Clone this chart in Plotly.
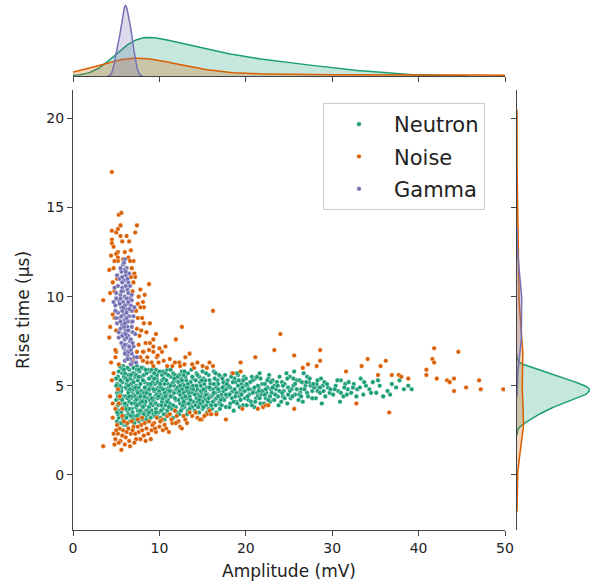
import numpy as np
import plotly.graph_objects as go

# ---------------- data (amplitude mV, rise time us) ----------------
neutron_pts = [
 (5.1,3.0),(5.3,3.6),(5.0,4.2),(5.6,4.9),(5.2,5.5),(5.8,6.1),(5.4,2.9),(5.9,3.3),(5.5,4.0),(5.1,4.6),
 (5.7,5.2),(5.3,5.8),(5.9,2.8),(5.6,3.5),(5.2,3.9),(5.8,4.4),(5.4,5.0),(5.0,5.4),(5.6,6.0),(5.3,3.2),
 (5.9,3.8),(5.5,4.5),(5.1,5.1),(5.7,5.7),(5.4,4.3),(5.8,2.9),(5.2,3.4),(5.6,4.7),(5.0,3.7),(5.9,5.5),
 (6.1,2.9),(6.4,3.4),(6.2,3.9),(6.7,4.3),(6.3,4.8),(6.9,5.3),(6.5,5.9),(7.2,3.1),(7.5,3.6),(7.1,4.1),
 (7.7,4.6),(7.3,5.0),(7.9,5.5),(7.4,6.1),(6.0,3.3),(6.6,3.0),(6.8,3.7),(7.0,4.5),(7.6,4.9),(7.8,3.2),
 (6.2,5.1),(6.4,5.6),(6.7,6.2),(7.1,5.7),(7.5,5.3),(7.8,4.2),(6.1,4.4),(6.3,3.6),(6.9,3.5),(7.3,3.8),
 (7.6,3.4),(7.9,3.9),(6.5,4.1),(6.8,4.7),(7.2,4.4),(7.7,5.8),(6.0,5.7),(6.6,5.4),(7.0,6.0),(7.4,4.7),
 (6.2,2.8),(6.9,4.9),(7.5,4.3),(7.8,5.1),(6.4,4.6),(6.7,5.1),(7.2,5.5),(7.6,3.0),(6.3,6.0),(7.0,3.3),
 (7.4,5.9),(6.1,4.9),(6.8,4.0),(7.3,4.2),(7.9,4.7),
 (8.1,3.1),(8.4,3.6),(8.2,4.2),(8.7,4.7),(8.3,5.2),(8.9,5.8),(8.5,3.3),(9.2,3.9),(9.5,4.4),(9.1,4.9),
 (9.7,5.4),(9.3,6.0),(9.9,3.5),(9.4,4.1),(8.0,4.5),(8.6,5.0),(8.8,3.8),(9.0,3.2),(9.6,3.7),(9.8,4.6),
 (8.2,5.6),(8.4,4.8),(8.7,3.4),(9.1,5.5),(9.5,5.1),(9.8,5.8),(8.1,6.0),(8.6,4.3),(8.9,4.5),(9.3,4.3),
 (9.6,4.0),(9.9,4.9),(8.3,3.9),(8.8,5.4),(9.2,5.2),(9.7,3.3),(8.0,3.5),(8.5,5.7),(9.0,4.0),(9.4,4.7),
 (9.8,5.2),(8.2,4.6),(8.7,5.9),(9.1,3.6),(9.6,4.8),(8.4,4.1),(8.9,4.9),(9.3,3.4),(9.7,5.6),(8.6,3.0),
 (10.1,3.2),(10.4,3.7),(10.2,4.3),(10.7,4.8),(10.3,5.3),(10.9,5.9),(11.2,3.4),(11.5,3.9),(11.1,4.5),(11.7,5.0),
 (11.3,5.5),(11.9,4.2),(10.5,4.0),(10.8,4.5),(11.0,5.1),(11.6,5.7),(11.8,3.6),(10.6,3.1),(10.0,4.7),(10.3,5.6),
 (11.4,4.7),(11.9,5.3),(10.9,3.6),(11.2,4.0),(10.6,5.1),(11.5,4.4),(10.2,4.9),(10.8,4.2),(11.7,4.6),(11.0,3.3),
 (10.4,5.8),(11.3,5.9),(10.7,3.9),(11.8,5.6),(10.1,4.5),(11.4,3.7),(10.5,4.4),(11.1,4.9),(11.6,3.2),(10.9,4.7),
 (10.3,4.1),(11.9,4.8),
 (12.1,3.5),(12.4,4.0),(12.2,4.6),(12.7,5.1),(12.3,5.6),(12.9,3.8),(13.2,4.3),(13.5,4.8),(13.1,5.3),(13.7,5.9),
 (13.3,3.6),(13.9,4.1),(12.5,4.4),(12.8,4.9),(13.0,5.5),(13.6,3.9),(13.8,4.6),(12.6,5.8),(12.0,4.8),(12.3,3.4),
 (13.4,5.0),(13.9,5.4),(12.9,4.2),(13.2,3.4),(12.6,3.7),(13.5,4.4),(12.2,5.2),(12.8,5.6),(13.7,4.9),(13.0,4.0),
 (12.4,4.5),(13.3,5.7),(12.7,4.3),(13.8,3.8),(12.1,4.9),(13.4,4.6),(12.5,5.4),(13.1,4.7),(13.6,5.2),(12.9,5.0),
 (14.1,3.6),(14.4,4.1),(14.2,4.7),(14.7,5.2),(14.3,5.7),(14.9,3.9),(15.2,4.4),(15.5,4.9),(15.1,5.4),(15.7,3.7),
 (15.3,4.2),(15.9,4.8),(14.5,4.5),(14.8,5.0),(15.0,5.8),(15.6,4.5),(15.8,5.3),(14.6,3.5),(14.0,5.0),(14.3,4.3),
 (15.4,3.9),(15.9,4.0),(14.9,4.6),(15.2,5.1),(14.6,5.5),(15.5,3.5),(14.2,3.9),(14.8,4.3),(15.7,5.6),(15.0,4.1),
 (14.4,4.8),(15.3,4.7),(14.7,4.0),(15.8,4.4),
 (16.1,3.7),(16.4,4.2),(16.2,4.8),(16.7,5.3),(16.3,5.8),(16.9,4.0),(17.2,4.5),(17.5,5.0),(17.1,5.5),(17.7,3.8),
 (17.3,4.3),(17.9,4.9),(16.5,4.6),(16.8,5.1),(17.0,4.1),(17.6,5.6),(17.8,4.4),(16.6,3.5),(16.0,4.4),(16.4,5.4),
 (17.4,4.7),(17.9,5.3),(16.9,4.7),(17.2,3.9),(16.6,4.9),(17.5,4.2),(16.2,4.1),(17.7,4.8),
 (18.1,3.8),(18.4,4.3),(18.2,4.9),(18.7,5.4),(18.3,4.6),(18.9,4.1),(19.2,4.6),(19.5,5.1),(19.1,5.6),(19.7,3.9),
 (19.3,4.4),(19.9,5.0),(18.5,4.7),(18.8,5.2),(19.0,4.0),(19.6,4.6),(19.8,5.5),(18.6,3.6),(18.0,5.0),(18.4,5.7),
 (19.4,4.8),(19.9,4.3),(18.9,4.6),(19.2,5.3),
 (20.1,3.9),(20.4,4.5),(20.2,5.0),(20.7,5.5),(20.3,4.2),(20.9,4.7),(21.2,4.3),(21.5,4.9),(21.1,5.4),(21.7,4.0),
 (21.3,4.6),(21.9,5.1),(20.5,4.8),(20.8,5.3),(21.0,3.8),(21.6,5.7),(21.8,4.5),(20.6,4.1),(20.0,5.4),(21.4,4.4),
 (22.1,4.0),(22.4,4.6),(22.2,5.1),(22.7,5.6),(22.3,4.3),(22.9,4.8),(23.2,4.2),(23.5,4.8),(23.1,5.3),(23.7,4.4),
 (23.3,5.0),(23.9,5.5),(22.5,4.9),(22.8,4.1),(23.0,4.6),(23.6,5.2),(23.8,3.9),(22.6,5.4),
 (24.1,4.1),(24.4,4.7),(24.2,5.2),(24.7,5.7),(24.3,4.4),(24.9,4.9),(25.2,4.3),(25.5,5.0),(25.1,5.5),(25.7,4.5),
 (25.3,4.8),(25.9,5.3),(24.5,5.1),(24.8,4.0),(25.6,5.8),
 (26.1,4.2),(26.4,4.8),(26.2,5.3),(26.7,5.7),(26.3,4.6),(26.9,5.0),(27.2,4.4),(27.5,5.0),(27.1,5.5),(27.7,4.7),
 (27.3,5.2),(27.9,4.9),(26.6,4.1),
 (28.1,4.3),(28.4,4.9),(28.2,5.1),(28.7,5.4),(28.3,4.7),(28.9,5.0),(29.2,4.4),(29.5,4.9),(29.1,5.2),(29.7,4.6),
 (28.6,4.9),(28.8,4.0),
 (30.1,4.5),(30.4,5.0),(30.7,4.7),(31.0,5.3),(31.3,4.4),(31.5,5.1),(31.8,4.8),(30.9,4.1),
 (32.2,4.6),(32.5,5.1),(32.9,4.8),(33.3,5.4),(33.6,4.5),(33.9,5.0),
 (34.3,4.8),(34.7,5.2),(35.1,4.6),(35.5,5.0),(35.9,4.4),
 (36.4,4.7),(36.9,5.1),(37.4,4.9),(37.8,5.3),
 (38.3,4.8),(38.8,5.0),(39.2,4.8),
 (5.2,4.4),(5.5,5.3),(5.8,3.1),(5.1,3.5),(5.4,6.1),(5.7,4.2),(5.3,4.7),(5.9,5.9),(5.6,2.9),(5.0,5.0),
 (6.2,3.2),(6.5,3.7),(6.8,4.4),(6.1,5.4),(6.4,5.0),(6.7,3.3),(6.0,4.0),(6.3,4.3),(6.9,5.7),(6.6,4.8),
 (7.1,2.9),(7.4,3.3),(7.7,4.0),(7.0,4.8),(7.3,5.6),(7.6,5.5),(7.9,6.0),(7.2,4.0),(7.5,4.6),(7.8,3.6),
 (8.3,4.4),(8.6,3.6),(8.9,4.2),(8.1,5.3),(8.4,5.9),(8.7,5.1),(8.0,4.1),(8.5,3.1),(8.8,4.8),(8.2,3.4),
 (9.2,4.2),(9.5,3.3),(9.8,4.3),(9.1,5.9),(9.4,5.4),(9.7,4.5),(9.0,5.1),(9.3,4.8),(9.6,5.9),(9.9,3.9),
 (10.2,3.6),(10.5,5.4),(10.8,3.4),(10.1,5.1),(10.4,4.3),(10.7,5.7),(11.0,4.2),(11.3,4.4),(11.6,5.2),(11.9,3.8),
 (12.2,4.2),(12.5,3.6),(12.8,4.6),(12.1,5.5),(12.4,5.0),(12.7,3.9),(13.0,4.4),(13.3,5.1),(12.6,4.8),(12.9,5.8),
 (13.5,3.7),(13.8,5.5),(13.2,4.9),(13.6,4.2),(13.9,4.8),(14.2,5.3),(14.5,3.8),(14.8,4.7),(14.1,4.5),(14.4,5.6),
 (14.7,4.4),(15.0,3.7),(15.3,5.3),(15.6,4.1),(15.9,5.1),(15.1,4.8),(15.4,5.7),(15.7,4.3),(16.0,3.9),(16.3,5.1),
 (16.6,4.3),(16.9,5.6),(16.2,4.5),(16.5,3.9),(16.8,4.8),(17.1,4.2),(17.4,5.2),(17.7,4.5),(17.0,3.7),(17.3,4.9),
 (6.3,5.3),(6.9,3.1),(7.6,5.9),(6.5,4.4),(7.2,4.9),(6.1,3.7),(7.8,4.4),(6.7,5.6),(7.4,3.9),(7.0,5.2),
 (8.3,4.9),(8.8,3.5),(9.4,5.7),(9.9,4.4),(8.5,4.6),(9.1,4.3),(9.6,3.5),(8.1,3.8),
 (10.2,3.9),(10.6,4.6),(11.0,5.6),(11.4,5.1),(11.8,4.3),(10.4,4.8),(10.8,5.3),(11.2,4.7),(11.6,3.9),(10.0,5.8),
 (10.5,3.4),(11.1,3.8),(11.7,5.4),(10.9,4.1),(11.3,5.0),(10.7,4.4),
 (12.3,4.7),(12.8,4.1),(13.4,4.0),(13.9,5.0),(12.6,5.3),
 (14.3,5.0),(14.9,5.3),(15.4,4.5),(15.8,4.9),(14.6,4.2),(15.1,3.8),
 (16.3,4.6),(16.8,4.4),(17.3,5.4),(17.8,5.1),(16.5,5.7),
 (18.2,4.0),(18.5,5.2),(18.8,4.4),(19.1,5.0),(19.4,4.2),(19.7,5.3),(18.3,5.5),(18.7,4.8),(19.0,5.7),(19.3,3.8),
 (19.6,4.9),(19.9,4.7),(18.1,4.5),(18.6,4.1),(19.5,4.5),
 (20.2,4.4),(20.5,5.2),(20.8,4.6),(21.1,4.1),(21.4,5.0),(21.7,5.4),(20.3,4.8),(20.7,3.9),(21.0,4.9),(21.3,5.5),
 (21.6,4.3),(21.9,4.7),(20.1,5.1),(21.5,4.7),
 (22.2,4.5),(22.5,5.3),(22.8,4.4),(23.1,4.9),(23.4,4.5),(23.7,5.0),(22.3,4.8),(22.9,5.2),(23.3,4.2),(23.9,4.7),
 (22.6,4.2),
 (24.2,4.6),(24.5,4.3),(24.8,5.4),(25.1,4.7),(25.4,4.4),(25.7,5.1),(24.3,5.0),(24.9,4.5),(25.5,5.4),(25.9,4.8),
 (26.2,4.5),(26.5,5.2),(26.8,4.8),(27.1,4.6),(27.4,5.4),(27.7,4.3),(26.4,4.4),(27.0,5.2),(27.8,5.1),
 (28.3,5.3),(28.6,4.6),(29.0,4.7),(29.4,5.1),(29.8,4.8),
 (30.3,4.8),(30.6,5.3),(31.0,4.6),(31.4,4.9),(31.7,4.5),(31.9,5.2),
 (32.4,4.9),(32.8,4.4),(33.2,4.9),(33.7,5.2),
 (34.5,4.6),(35.3,5.3),
 (36.7,4.5),
]

noise_pts = [
 (4.5,17.0),(5.3,14.6),(5.6,14.7),(7.4,14.0),(4.5,13.7),(5.0,13.6),(5.2,13.8),(4.5,13.2),(4.5,13.0),(5.7,13.1),
 (6.5,13.1),(5.2,12.5),(5.0,12.4),(5.2,12.2),(6.0,12.5),(6.4,12.2),(5.8,12.1),(5.2,12.0),(4.2,11.5),(4.7,11.6),
 (6.8,11.6),(7.1,11.3),(7.2,11.1),(6.7,11.1),(8.8,10.7),(7.8,10.4),(3.5,9.8),(8.1,9.7),(8.2,9.4),(7.8,9.4),
 (7.5,8.8),(8.0,8.8),(8.2,8.5),(4.2,7.7),(4.3,8.3),(9.3,7.6),(8.4,7.4),(8.2,6.9),(9.3,6.9),(8.6,6.6),
 (9.7,6.6),(5.0,6.9),(4.9,6.6),(7.4,6.9),(7.2,6.6),(4.9,7.0),(5.3,6.2),(7.8,6.6),(8.1,6.4),(8.6,6.3),
 (9.1,6.3),(9.3,6.1),(8.9,7.4),(9.3,7.2),(8.1,6.9),(9.8,6.7),(10.3,6.9),(10.0,7.1),(7.6,10.0),(7.3,9.2),
 (4.8,10.3),(4.6,9.0),(7.0,12.0),(6.9,10.3),(7.4,8.2),(7.7,7.8),(5.0,8.1),(7.2,13.6),(4.7,12.8),(6.2,13.4),
 (13.0,6.6),(10.9,6.1),(11.5,6.1),(12.3,6.3),(12.4,6.1),(14.4,6.3),(15.0,6.1),(15.5,6.0),(12.6,8.3),(16.2,9.2),
 (5.2,4.8),(5.4,4.4),(5.3,4.0),(5.7,3.7),(5.7,3.3),(4.3,4.4),(4.6,4.0),(4.9,3.7),(4.5,5.3),(4.7,5.7),(4.6,3.2),
 (3.5,1.6),(5.6,1.4),(4.9,2.0),(5.2,2.3),(5.5,1.9),(5.8,2.5),(6.1,2.1),(6.4,2.6),(6.0,1.7),(6.7,2.3),
 (7.0,2.7),(7.3,2.0),(5.4,2.6),(6.3,2.9),(7.6,2.4),(7.9,2.8),(8.2,2.2),(8.5,2.6),(8.8,3.0),(9.1,2.5),
 (9.4,2.9),(9.7,3.2),(10.0,2.7),(10.3,3.1),(10.6,2.8),(10.9,3.3),(8.0,3.2),(7.1,1.8),(6.6,1.6),(5.1,2.8),
 (4.8,1.7),(9.0,2.0),(8.4,1.9),(7.5,3.1),(9.6,2.4),(11.2,3.4),(11.5,2.9),(12.2,3.0),(12.4,2.7),(12.6,2.6),
 (13.0,3.1),(13.5,3.5),(14.4,3.2),(14.9,3.1),(15.5,3.4),(11.8,3.6),(10.4,2.5),(6.8,3.0),(5.9,3.0),(7.8,2.0),
 (24.0,7.9),(23.3,7.0),(25.6,6.7),(28.6,7.0),(28.6,6.4),(21.1,6.6),(19.4,6.3),(16.2,6.1),(18.5,5.7),(19.4,5.8),
 (26.6,6.0),(27.2,6.2),(28.2,6.1),(31.6,5.8),(33.4,6.1),(34.1,6.5),(35.6,6.1),(36.2,6.4),(35.3,5.6),(36.9,5.6),
 (37.7,5.6),(38.0,5.5),(38.8,5.4),(41.8,7.1),(41.6,6.5),(41.8,6.3),(40.9,5.9),(40.9,5.6),(42.1,5.4),(44.6,6.9),
 (43.3,5.3),(43.6,5.2),(44.1,5.4),(44.1,4.7),(45.5,4.9),(47.0,5.3),(47.2,4.8),(49.8,4.8),(36.6,3.5),(32.8,4.0),
 (25.6,3.7),(21.4,3.7),(22.0,3.8),(22.3,3.9),(22.6,3.9),(19.6,3.7),(17.7,3.1),(16.6,3.4),(16.0,3.4),(15.2,3.3),
 (14.7,3.1),
 (5.0,2.5),(5.3,1.8),(5.7,2.2),(6.2,2.4),(6.5,1.9),(6.9,2.5),(7.2,2.3),(7.5,2.7),(8.0,2.5),(8.3,2.9),
 (8.7,2.3),(9.2,2.8),(9.5,2.6),(10.1,3.0),(4.7,2.3),
 (5.1,11.0),(4.8,12.0),(6.6,12.0),(7.0,10.8),(7.5,9.6),(4.6,10.8),(7.9,8.1),(8.5,8.0),(8.8,7.0),(5.5,13.4),
 (11.2,6.5),(13.8,6.2),(9.9,6.3),(6.9,6.4),(7.6,7.3),
 (10.8,2.6),(11.4,3.1),(11.9,2.9),(12.8,3.3),(13.2,2.9),(13.8,3.3),(14.2,3.5),(15.8,3.6),(11.1,2.4),(12.0,3.3),
 (10.5,6.4),(11.8,6.3),(12.9,6.2),(14.0,6.0),(15.8,6.3),(13.5,6.8),(10.7,7.2),(11.9,7.6),
 (4.4,12.3),(5.5,14.0),(6.7,12.6),(4.3,10.2),(8.3,10.1),(8.9,8.5),(4.4,6.3),(9.6,7.9),(4.8,8.8),
]

gamma_pts = [
 (6.0,12.1),(5.8,11.8),(6.2,11.6),(5.6,11.4),(6.1,11.2),(5.4,11.0),(5.9,10.9),(6.4,10.8),(5.2,10.6),(5.7,10.5),
 (6.3,10.4),(5.0,10.2),(5.5,10.1),(6.0,10.0),(6.6,9.9),(5.3,9.8),(5.8,9.7),(6.3,9.6),(4.9,9.5),(5.6,9.4),
 (6.1,9.3),(6.8,9.2),(5.2,9.1),(5.9,9.0),(6.5,8.9),(5.4,8.8),(6.0,8.7),(6.7,8.6),(5.1,8.5),(5.7,8.4),
 (6.3,8.3),(5.5,8.2),(6.1,8.1),(6.9,8.0),(5.8,7.9),(6.4,7.8),(5.3,7.7),(6.0,7.6),(6.6,7.5),(5.6,7.4),
 (6.2,7.3),(7.0,7.2),(5.9,7.1),(6.5,7.0),(6.1,6.9),(6.8,6.8),(6.3,6.7),(7.1,6.6),(6.6,6.5),(6.0,6.4),
 (6.9,6.3),(5.7,10.8),(6.4,10.2),(5.4,9.6),(6.2,9.9),(5.0,9.9),(6.7,9.5),(5.6,8.9),(6.3,8.6),(5.9,8.3),
 (5.3,8.0),(6.7,7.6),(5.8,7.2),(6.4,6.9),(7.3,6.3),(5.5,11.6),(6.0,11.5),(5.7,9.2),(6.2,8.8),(6.0,6.8),
 (4.7,9.7),(4.8,10.5),(5.0,8.8),(6.8,9.8),(7.0,8.9),(6.9,7.4),(7.2,7.9),(6.6,10.6),(6.5,11.3),(7.4,6.6),
 (5.1,11.2),(6.8,8.3),(4.9,9.2),(7.1,9.4),(6.7,7.0),
 (5.9,11.9),(6.1,11.4),(5.7,11.1),(6.3,11.0),(5.8,10.3),(6.1,10.6),(5.5,9.9),(6.0,9.5),(6.5,9.3),(5.8,9.4),
 (6.2,9.1),(5.5,8.6),(6.0,8.5),(6.4,8.1),(5.7,7.8),(6.2,7.7),(6.5,7.2),(6.0,7.3),(6.3,6.5),(6.7,6.2),
 (6.9,8.6),(6.8,10.1),(5.6,10.3),(6.4,9.7),(6.1,7.9),
]

class_names = ["Neutron", "Noise", "Gamma"]
class_pts = [neutron_pts, noise_pts, gamma_pts]
line_colors = ["#1b9e77", "#d95f02", "#7570b3"]
fill_colors = ["rgba(27,158,119,0.25)", "rgba(217,95,2,0.25)", "rgba(117,112,179,0.25)"]
x_ticks = [0, 10, 20, 30, 40, 50]
y_ticks = [0, 5, 10, 15, 20]
x_range = [0, 50]
y_range = [-3.1, 21.6]


def kde(vals, weight, cut=3, gridsize=200):
    v = np.asarray(vals, float)
    bw = v.std(ddof=1) * len(v) ** (-0.2)
    grid = np.linspace(v.min() - cut * bw, v.max() + cut * bw, gridsize)
    dens = np.exp(-0.5 * ((grid[:, None] - v[None, :]) / bw) ** 2).sum(1)
    dens /= len(v) * bw * np.sqrt(2 * np.pi)
    return grid, dens * weight


total = sum(len(p) for p in class_pts)
fig = go.Figure()

for name, pts, col in zip(class_names, class_pts, line_colors):
    xs = [p[0] for p in pts]
    ys = [p[1] for p in pts]
    fig.add_trace(go.Scatter(x=xs, y=ys, mode="markers", name=name, legendgroup=name,
                             marker=dict(color=col, size=4.6, line=dict(width=0.4, color="white")),
                             xaxis="x", yaxis="y"))

top_max = 0
right_max = 0
kx_all, ky_all = [], []
for name, pts, col, fc in zip(class_names, class_pts, line_colors, fill_colors):
    w = len(pts) / total
    gx, dx = kde([p[0] for p in pts], w)
    gy, dy = kde([p[1] for p in pts], w)
    top_max = max(top_max, dx.max())
    right_max = max(right_max, dy.max())
    kx_all.append((gx, dx, col, fc))
    ky_all.append((gy, dy, col, fc))

for gx, dx, col, fc in kx_all:
    fig.add_trace(go.Scatter(x=gx, y=dx, mode="lines", fill="tozeroy", fillcolor=fc,
                             line=dict(color=col, width=1.5), showlegend=False,
                             hoverinfo="skip", xaxis="x2", yaxis="y2"))
for gy, dy, col, fc in ky_all:
    fig.add_trace(go.Scatter(x=dy, y=gy, mode="lines", fill="tozerox", fillcolor=fc,
                             line=dict(color=col, width=1.5), showlegend=False,
                             hoverinfo="skip", xaxis="x3", yaxis="y3"))

font_fam = "DejaVu Sans, sans-serif"
axis_col = "#444444"
main_x_dom = [73 / 602, 505 / 602]
main_y_dom = [1 - 530 / 586, 1 - 90 / 586]

fig.update_layout(
    width=602, height=586,
    margin=dict(l=0, r=0, t=0, b=0, autoexpand=False),
    paper_bgcolor="white", plot_bgcolor="white",
    font=dict(family=font_fam, color="#222222", size=14),
    showlegend=True,
    legend=dict(x=323 / 602, y=1 - 103 / 586, xanchor="left", yanchor="top",
                bgcolor="rgba(255,255,255,0.9)", bordercolor="#cccccc", borderwidth=1,
                font=dict(size=21, family=font_fam, color="#222222"),
                tracegroupgap=2, itemwidth=60),
    xaxis=dict(domain=main_x_dom, range=x_range, anchor="y", tickvals=x_ticks,
               showline=True, linecolor=axis_col, linewidth=1.2, ticks="outside",
               ticklen=5, tickwidth=1.2, tickcolor=axis_col, showgrid=False, zeroline=False,
               tickfont=dict(size=14), automargin=False,
               title=dict(text="Amplitude (mV)", font=dict(size=17), standoff=10)),
    yaxis=dict(domain=main_y_dom, range=y_range, anchor="x", tickvals=y_ticks,
               showline=True, linecolor=axis_col, linewidth=1.2, ticks="outside",
               ticklen=5, tickwidth=1.2, tickcolor=axis_col, showgrid=False, zeroline=False,
               tickfont=dict(size=14), automargin=False,
               title=dict(text="Rise time (μs)", font=dict(size=17), standoff=12)),
    xaxis2=dict(domain=main_x_dom, range=x_range, anchor="y2", tickvals=x_ticks,
                showline=True, linecolor=axis_col, linewidth=1.2, ticks="outside",
                ticklen=5, tickwidth=1.2, tickcolor=axis_col, showticklabels=False,
                showgrid=False, zeroline=False, automargin=False),
    yaxis2=dict(domain=[1 - 76 / 586, 1 - 2 / 586], range=[0, top_max * 1.05], anchor="x2",
                visible=False),
    xaxis3=dict(domain=[517 / 602, 593 / 602], range=[0, right_max * 1.05], anchor="y3",
                visible=False),
    yaxis3=dict(domain=main_y_dom, range=y_range, anchor="x3", tickvals=y_ticks,
                showline=True, linecolor=axis_col, linewidth=1.2, ticks="outside",
                ticklen=5, tickwidth=1.2, tickcolor=axis_col, showticklabels=False,
                showgrid=False, zeroline=False, automargin=False),
)

fig.write_html("out.html")
